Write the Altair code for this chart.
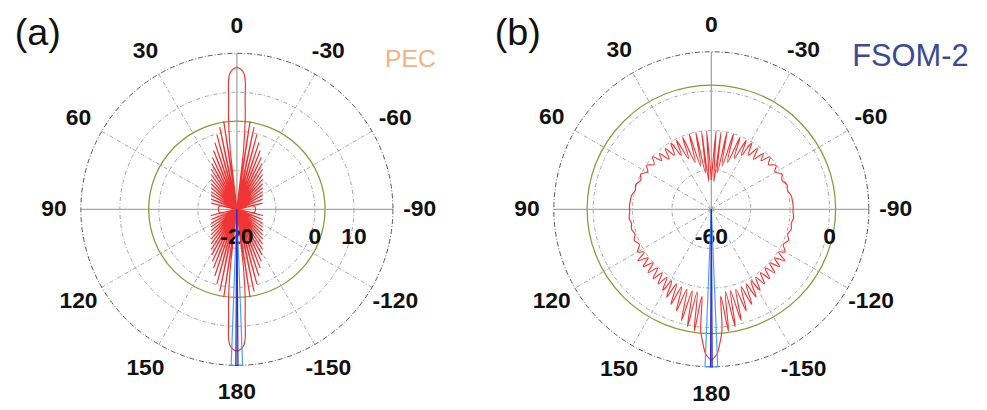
import altair as alt
import pandas as pd

# ---------------- data (angle in degrees, 0 = top; values in dB) ----------------
angle_ticks = [0, 30, 60, 90, 120, 150, 180, -150, -120, -90, -60, -30]
spokes_dashed = [30, 60, 120, 150, -30, -60, -120, -150]
spokes_solid = [0, 90, 180, -90]

# Panel (a) PEC
a_range = [-20, 20]
a_rings = [-10, 0, 10]
a_green = [2.6]
a_rlabels = [-20, 0, 10]
a_red_ang = [0, 1.6, 2.95, 3.7, 4.3, 5.3, 6.4, 7.0,
             8.5, 10.1, 11.8, 13.4, 15.0, 16.6, 18.3, 20.0, 21.7, 23.4, 25.2, 27.0,
             28.8, 30.7, 32.6, 34.6, 36.6, 38.7, 40.8, 43.0, 45.3, 47.7, 50.2, 52.9,
             55.6, 58.6, 61.6, 65.0, 68.5, 72.5, 76.5, 78.5,
             80.5, 99.5, 101.5,
             103.5, 107.5, 111.5, 115.0, 118.4, 121.4, 124.4, 127.1, 129.8, 132.3,
             134.7, 137.0, 139.2, 141.3, 143.4, 145.4, 147.4, 149.3, 151.2, 153.0,
             154.8, 156.6, 158.3, 160.0, 161.7, 163.4, 165.0, 166.6, 168.2, 169.9,
             171.5, 173.0,
             173.6, 174.7, 175.7, 176.3, 177.05, 178.4, 180]
a_red_db = [16.4, 15.9, 14.9, 13.1, 8.2, 3.1, -4.6, -20,
            2.8, -20, 1.5, -20, -0.2, -20, -2.0, -20, -3.8, -20, -5.3, -20,
            -6.6, -20, -7.8, -20, -8.9, -20, -9.9, -20, -10.7, -20, -11.4, -20,
            -12.0, -20, -12.5, -20, -12.9, -20, -13.2, -19.5,
            -15.4, -15.4, -19.5,
            -13.2, -20, -12.9, -20, -12.5, -20, -12.0, -20, -11.4, -20,
            -10.7, -20, -9.9, -20, -8.9, -20, -7.8, -20, -6.6, -20,
            -5.3, -20, -3.8, -20, -2.0, -20, -0.2, -20, 1.5, -20,
            2.8, -20,
            -4.6, 3.1, 8.2, 13.1, 14.9, 15.9, 16.4]
a_lblue_ang = [179.0, 177.9, 180.0]
a_lblue_db = [-20, 20, 20]
a_dblue_ang = [179.9, 179.6, 180.0]
a_dblue_db = [-20, 20, 20]

# Panel (b) FSOM-2
b_range = [-60, 20]
b_rings = [-40, -20, 0]
b_green = [3.1]
b_rlabels = [-60, 0]
b_red_ang = [0, 3.4, 5.2, 7.1, 9.2, 11.4, 13.9, 16.4, 19.0, 21.7,
             24.2, 26.8, 29.1, 31.4, 34.3, 37.2, 40.1, 43.0, 45.6, 48.2,
             52.0, 55.7, 59.5, 63.5, 67.5, 72, 76, 80, 84, 88,
             92, 96, 100, 104, 108, 112, 116, 120, 122.5, 125,
             127.5, 130, 132.5, 135, 137.5, 140, 142.2, 144.5, 146.8, 149,
             151, 153, 155, 157, 159, 161, 163, 165, 166.8, 168.5,
             170.3, 172, 173.8, 175, 176.5, 177.8, 180]
b_red_db = [-45.0, -20.1, -45.9, -20.6, -41.3, -20.1, -37.3, -20.1, -34.7, -20.6,
            -31.7, -20.8, -28.7, -20.6, -26.7, -21.3, -26.7, -21.3, -24.6, -20.1,
            -23.1, -20.3, -22.5, -20.0, -21.2, -19.6, -20.2, -18.9, -18.6, -18.4,
            -18.5, -18.0, -18.8, -18.2, -19.2, -17.8, -19.3, -16.8, -19.5, -14.5,
            -19.5, -14.8, -19.8, -14.6, -19.5, -14.0, -19.2, -13.5, -18.8, -12.0,
            -18.5, -10.0, -18.2, -7.5, -17.8, -5.5, -17.5, -1.5, -17.5, 0.8,
            -17.5, 2.5, -15.5, 1.8, 8.7, 13.7, 16.8]
b_lblue_ang = [179.0, 177.7, 180.0]
b_lblue_db = [-60, 20, 20]
b_dblue_ang = [179.9, 179.7, 180.0]
b_dblue_db = [-60, 20, 20]

RED = "#ef3434"
LBLUE = "#4a9ff5"
DBLUE = "#2a2ad0"
GREEN = "#8c9a3e"
GRID = "#8f8f8f"
FONT = "Liberation Sans"


def panel(red_ang, red_db, lb_ang, lb_db, db_ang, db_db, rng, rings, green,
          rlabels, R, width, height, cx, cy, texts):
    dbmin, dbmax = rng
    k = R / (dbmax - dbmin)
    xs = alt.Scale(domain=[-cx, width - cx], nice=False, zero=False)
    ys = alt.Scale(domain=[cy - height, cy], nice=False, zero=False)

    def X(f):
        return alt.X(f, type="quantitative", scale=xs, axis=None)

    def Y(f):
        return alt.Y(f, type="quantitative", scale=ys, axis=None)

    r_expr = f"max(0, (datum.db - ({dbmin})) * {k})"

    def curve(ang, db, side, color, sw, interp):
        df = pd.DataFrame({"i": list(range(len(ang))), "ang": ang, "db": db})
        return (
            alt.Chart(df)
            .transform_calculate(r=r_expr)
            .transform_calculate(
                px=f"{side} * datum.r * sin(datum.ang * PI / 180)",
                py="datum.r * cos(datum.ang * PI / 180)",
            )
            .mark_line(color=color, strokeWidth=sw, interpolate=interp)
            .encode(x=X("px"), y=Y("py"), order=alt.Order("i:Q"))
        )

    def ring_layer(vals, color, sw, dash=None):
        # circle symbol: radius = sqrt(size) / 2  ->  size = (2 r)^2
        df = pd.DataFrame({"db": vals, "c": [0] * len(vals)})
        kw = dict(shape="circle", filled=False, color=color, strokeWidth=sw, opacity=1)
        if dash:
            kw["strokeDash"] = dash
        return (
            alt.Chart(df)
            .transform_calculate(rr=r_expr)
            .transform_calculate(sz="4 * datum.rr * datum.rr")
            .mark_point(**kw)
            .encode(x=X("c"), y=Y("c"), size=alt.Size("sz:Q", scale=None, legend=None))
        )

    def spoke_layer(angs, color, sw, dash=None):
        df = pd.DataFrame({"ang": angs, "c": [0] * len(angs)})
        kw = dict(color=color, strokeWidth=sw)
        if dash:
            kw["strokeDash"] = dash
        return (
            alt.Chart(df)
            .transform_calculate(
                ex=f"-{R} * sin(datum.ang * PI / 180)",
                ey=f"{R} * cos(datum.ang * PI / 180)",
            )
            .mark_rule(**kw)
            .encode(x=X("c"), y=Y("c"), x2=alt.X2("ex:Q"), y2=alt.Y2("ey:Q"))
        )

    inner_rings = ring_layer(rings, GRID, 0.8, [4, 2, 1, 2])
    outer_ring = ring_layer([dbmax], "#555555", 1.0, [5, 2, 1, 2])
    green_ring = ring_layer(green, GREEN, 1.3)
    dashed = spoke_layer(spokes_dashed, GRID, 0.8, [4, 2, 1, 2])
    solid = spoke_layer(spokes_solid, "#a6a6a6", 1.3)

    rl_df = pd.DataFrame({"db": rlabels, "lab": [str(v) for v in rlabels]})
    rlab = (
        alt.Chart(rl_df)
        .transform_calculate(lx=r_expr, ly="-28")
        .mark_text(font=FONT, fontSize=23, fontWeight="bold", color="#111111",
                   align="center", baseline="middle")
        .encode(x=X("lx"), y=Y("ly"), text="lab:N")
    )

    RL = R + 27
    al_df = pd.DataFrame({"ang": angle_ticks, "lab": [str(a) for a in angle_ticks]})
    alab = (
        alt.Chart(al_df)
        .transform_calculate(
            lx=f"-{RL} * sin(datum.ang * PI / 180)",
            ly=f"{RL} * cos(datum.ang * PI / 180)",
        )
        .mark_text(font=FONT, fontSize=23, fontWeight="bold", color="#111111",
                   align="center", baseline="middle")
        .encode(x=X("lx"), y=Y("ly"), text="lab:N")
    )

    layers = [inner_rings, dashed, solid, outer_ring, green_ring]
    for side in (-1, 1):
        layers.append(curve(red_ang, red_db, side, RED, 1.15, "catmull-rom"))
    layers.append(rlab)
    for side in (-1, 1):
        layers.append(curve(lb_ang, lb_db, side, LBLUE, 1.2, "linear"))
    for side in (-1, 1):
        layers.append(curve(db_ang, db_db, side, DBLUE, 1.2, "linear"))
    layers.append(alab)

    for (t, px, py, size, color) in texts:
        layers.append(
            alt.Chart(pd.DataFrame({"t": [t]}))
            .mark_text(font=FONT, fontSize=size, color=color, align="center",
                       baseline="middle")
            .encode(x=alt.value(px), y=alt.value(py), text="t:N")
        )

    return alt.layer(*layers).properties(width=width, height=height)


pa = panel(a_red_ang, a_red_db, a_lblue_ang, a_lblue_db, a_dblue_ang, a_dblue_db,
           a_range, a_rings, a_green, a_rlabels, R=157, width=477, height=394,
           cx=230.3, cy=201.3,
           texts=[("(a)", 30, 25, 38, "#111111"), ("PEC", 405, 50, 25, "#f4b183")])
pb = panel(b_red_ang, b_red_db, b_lblue_ang, b_lblue_db, b_dblue_ang, b_dblue_db,
           b_range, b_rings, b_green, b_rlabels, R=158.5, width=500, height=394,
           cx=230.7, cy=201.3,
           texts=[("(b)", 36, 25, 38, "#111111"), ("FSOM-2", 431, 48, 31, "#3c4a94")])

chart = (
    alt.hconcat(pa, pb, spacing=0)
    .properties(padding=0)
    .configure_view(stroke=None)
)
chart.save("out.html", embed_options={"renderer": "svg", "actions": False})
